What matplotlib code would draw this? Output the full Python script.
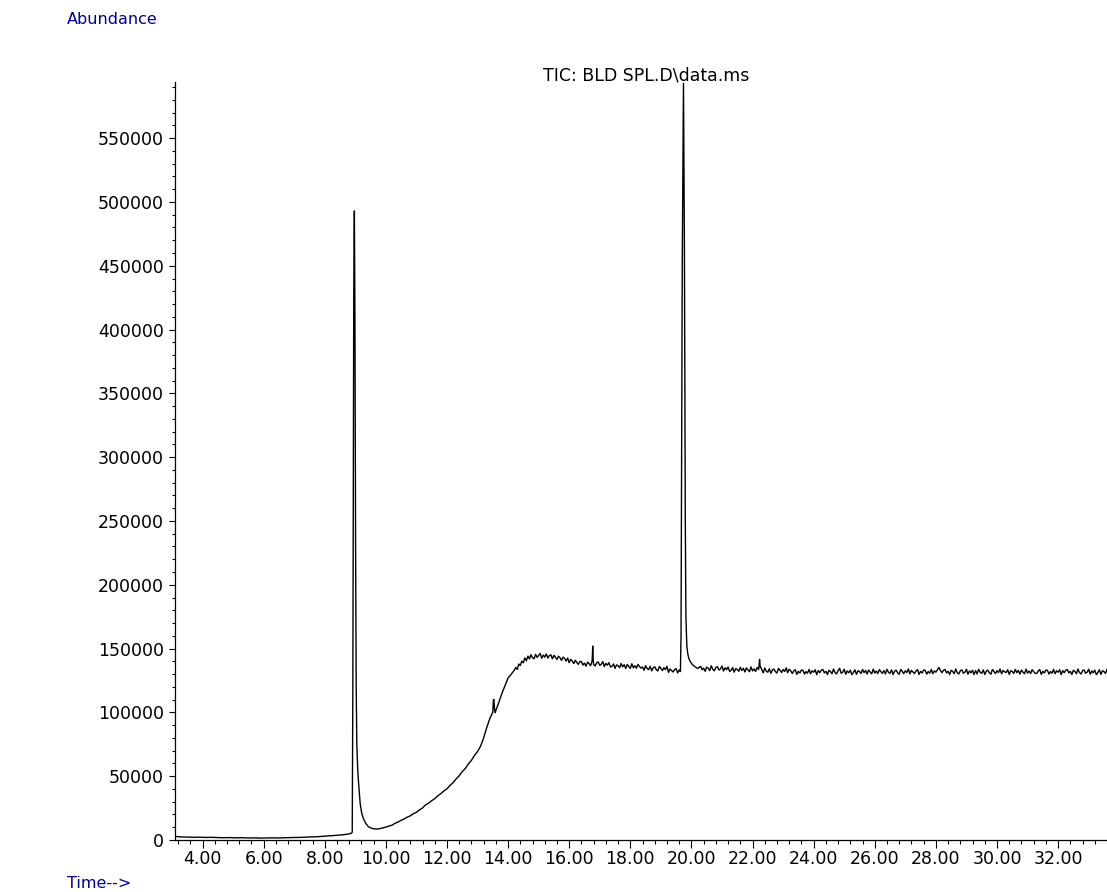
import matplotlib
matplotlib.use("Agg")
import matplotlib.pyplot as plt
import numpy as np
from matplotlib.ticker import MultipleLocator, FixedLocator

# --- chromatogram (time in min, abundance in counts) ---
# regularly sampled stretches: (start time, step, values)
early_start, early_step = 3.1, 0.2
early_vals = [2800, 2400, 2300, 2100, 2200, 2000, 2100, 1900, 1800, 1900,
              1700, 1800, 1600, 1700, 1500, 1600, 1700, 1600, 1800, 1900,
              2000, 2100, 2400, 2500, 2800, 3200, 3500, 3900, 4400]

rise_start, rise_step = 10.0, 0.1
rise_vals = [10100, 10900, 11600, 13100, 14100, 15400, 16500, 17900, 18900, 20600,
             21700, 23600, 25100, 27500, 28900, 30800, 32400, 34600, 36300, 38500,
             40100, 42800, 44900, 47900, 50300, 53600, 56000, 59600, 62400, 66300,
             69300, 73500, 80000, 88000, 95000, 100200, 101500, 108000, 115000, 121000,
             127000, 129800, 133000]

plateau_start, plateau_step = 14.25, 0.05
plateau_vals = [135200, 133600, 137900, 136800, 140200, 138900, 142700, 140400, 144100, 141900,
                145200, 142800, 142000, 145500, 143100, 144600, 146200, 142400, 144900, 143300,
                145800, 142600, 144500, 145100, 142000, 144700, 143200, 141400, 144000, 142800,
                140700, 143300, 142200, 140200, 142600, 139000, 141500, 140300, 138200, 140900,
                139100, 137600, 139900]

mid_start, mid_step = 16.4, 0.05
mid_vals = [139800, 137100, 138600, 136200, 139400, 138300, 136600, 140100, 137500, 136400,
            138900, 139500, 136900, 137700, 139800, 135900, 138400, 137000, 139000, 135600,
            136000, 138000, 134500, 137200, 136600, 135100, 138300, 135700, 137400, 134400,
            137500, 136000, 134500, 138100, 134900, 136600, 134600, 137600, 136000, 134700,
            135600, 133000, 136600, 134300, 133500, 136100, 132500, 135000, 135700, 133600,
            132400, 136000, 134500, 132800, 135000, 133500, 136100, 131400, 134000, 132800,
            131600, 133600, 134300, 130900, 133200]

late_start, late_step = 20.3, 0.05
late_vals = [136100, 133400, 134700, 132200, 135500, 134600, 132800, 136500, 133700, 132600,
             135200, 135800, 133200, 134000, 136300, 132400, 135000, 133500, 135600, 132100,
             133000, 135100, 131500, 134300, 133700, 132200, 135400, 132800, 134600, 131700,
             134900, 133300, 131900, 135600, 132500, 134100, 132100, 135200, 133600, 136000,
             133700, 131000, 134700, 132300, 131500, 134200, 130600, 133200, 134000, 131900,
             130800, 134500, 133000, 131300, 133600, 132100, 134900, 131100, 133800, 132600,
             130500, 132500, 133500, 129800, 132200, 130900, 133200, 133000, 130000, 132000,
             130700, 133700, 130300, 132600, 131500, 133400, 129600, 132800, 131100, 133100,
             133600, 130900, 132200, 129700, 133000, 132100, 130300, 134000, 131200, 130100,
             132700, 134500, 130700, 131500, 133800, 129900, 132500, 131000, 133100, 129600,
             131300, 133400, 129800, 132600, 132000, 130500, 133700, 131100, 132900, 130000,
             133200, 131600, 130200, 133900, 130800, 132400, 130400, 133500, 131900, 130600,
             132800, 130100, 133800, 131400, 130600, 133300, 129700, 132300, 133100, 131000,
             129900, 133600, 132100, 130400, 132700, 131200, 134000, 130200, 132900, 131700,
             130500, 132500, 133500, 129800, 132200, 130900, 133200, 133000, 130000, 132000,
             130700, 133700, 130300, 132600, 131500, 133400, 135200, 132800, 131100, 133100,
             133600, 130900, 132200, 129700, 133000, 132100, 130300, 134000, 131200, 130100,
             132700, 133300, 130700, 131500, 133800, 129900, 132500, 131000, 133100, 129600,
             132800, 130100, 133800, 131400, 130600, 133300, 129700, 132300, 133100, 131000,
             129900, 133600, 132100, 130400, 132700, 131200, 134000, 130200, 132900, 131700,
             131300, 133400, 129800, 132600, 132000, 130500, 133700, 131100, 132900, 130000,
             133200, 131600, 130200, 133900, 130800, 132400, 130400, 133500, 131900, 130600,
             130500, 132500, 133500, 129800, 132200, 130900, 133200, 133000, 130000, 132000,
             130700, 133700, 130300, 132600, 131500, 133400, 129600, 132800, 131100, 133100,
             133600, 130900, 132200, 129700, 133000, 132100, 130300, 134000, 131200, 130100,
             132700, 133300, 130700, 131500, 133800, 129900, 132500, 131000, 133100, 129600,
             131300, 133400, 129800, 132600, 132000, 130500, 133700]

# peaks, read point by point
peak1_t = [8.80, 8.86, 8.90, 8.92, 8.95, 8.97, 8.99, 9.01, 9.03, 9.05, 9.08,
           9.11, 9.16, 9.21, 9.27, 9.35, 9.43, 9.52, 9.60, 9.71, 9.80, 9.90]
peak1_a = [4800, 5200, 6000, 120000, 430000, 493000, 400000, 230000, 120000, 75000, 55000,
           44000, 28500, 21000, 16500, 12800, 10400, 9300, 8800, 8600, 8900, 9500]

spike1_t = [13.52, 13.535, 13.555, 13.58]
spike1_a = [109500, 110200, 103000, 99800]

spike2_t = [16.76, 16.77, 16.78]
spike2_a = [145000, 152000, 143000]

peak2_t = [19.64, 19.66, 19.70, 19.74, 19.77, 19.80, 19.82, 19.85, 19.88,
           19.92, 19.97, 20.05, 20.13, 20.21]
peak2_a = [132000, 160000, 450000, 593000, 470000, 250000, 175000, 152000, 146000,
           142000, 139500, 137000, 135500, 134500]

spike3_t = [22.215, 22.23]
spike3_a = [137000, 141500]

x_major = [4, 6, 8, 10, 12, 14, 16, 18, 20, 22, 24, 26, 28, 30, 32]
y_major = [0, 50000, 100000, 150000, 200000, 250000, 300000,
           350000, 400000, 450000, 500000, 550000]


def sampled(start, step, vals):
    t = np.round(start + step * np.arange(len(vals)), 3)
    return t, np.array(vals, dtype=float)


parts = [sampled(early_start, early_step, early_vals),
         sampled(rise_start, rise_step, rise_vals),
         sampled(plateau_start, plateau_step, plateau_vals),
         sampled(mid_start, mid_step, mid_vals),
         sampled(late_start, late_step, late_vals),
         (np.array(peak1_t), np.array(peak1_a, dtype=float)),
         (np.array(spike1_t), np.array(spike1_a, dtype=float)),
         (np.array(spike2_t), np.array(spike2_a, dtype=float)),
         (np.array(peak2_t), np.array(peak2_a, dtype=float)),
         (np.array(spike3_t), np.array(spike3_a, dtype=float))]
time = np.concatenate([p[0] for p in parts])
abund = np.concatenate([p[1] for p in parts])
order = np.argsort(time, kind="stable")
time, abund = time[order], abund[order]

plt.rcParams['font.family'] = ['DejaVu Sans']

W, H = 1107, 892
fig = plt.figure(figsize=(W / 100, H / 100), dpi=100, facecolor="white")
ax = fig.add_axes([175 / W, 52 / H, 932 / W, 758 / H])

ax.plot(time, abund, color="black", linewidth=1.0)

ax.set_xlim(3.1, 33.6)
ax.set_ylim(0, 594000)

for side in ("top", "right"):
    ax.spines[side].set_visible(False)
for side in ("left", "bottom"):
    ax.spines[side].set_linewidth(0.9)
    ax.spines[side].set_color("black")

ax.xaxis.set_major_locator(FixedLocator(x_major))
ax.set_xticklabels([f"{v:.2f}" for v in x_major])
ax.xaxis.set_minor_locator(MultipleLocator(0.4))
ax.yaxis.set_major_locator(FixedLocator(y_major))
ax.set_yticklabels([str(v) for v in y_major])
ax.yaxis.set_minor_locator(MultipleLocator(10000))

ax.tick_params(axis="x", which="major", direction="out", length=6, width=0.8,
               labelsize=12.5, pad=1)
ax.tick_params(axis="x", which="minor", direction="out", length=3, width=0.8)
ax.tick_params(axis="y", which="major", direction="out", length=4, width=0.8,
               labelsize=12.5, pad=4)
ax.tick_params(axis="y", which="minor", direction="out", length=2.5, width=0.8)

fig.text(646 / W, 1 - 75 / H, r"TIC: BLD SPL.D\data.ms", ha="center", va="center",
         fontsize=12.5, color="black")
fig.text(67 / W, 1 - 20 / H, "Abundance", ha="left", va="center",
         fontsize=11.5, color="#000090")
fig.text(67 / W, 1 - 883 / H, "Time-->", ha="left", va="center",
         fontsize=11.5, color="#000090")

fig.savefig("out.png", dpi=100)
